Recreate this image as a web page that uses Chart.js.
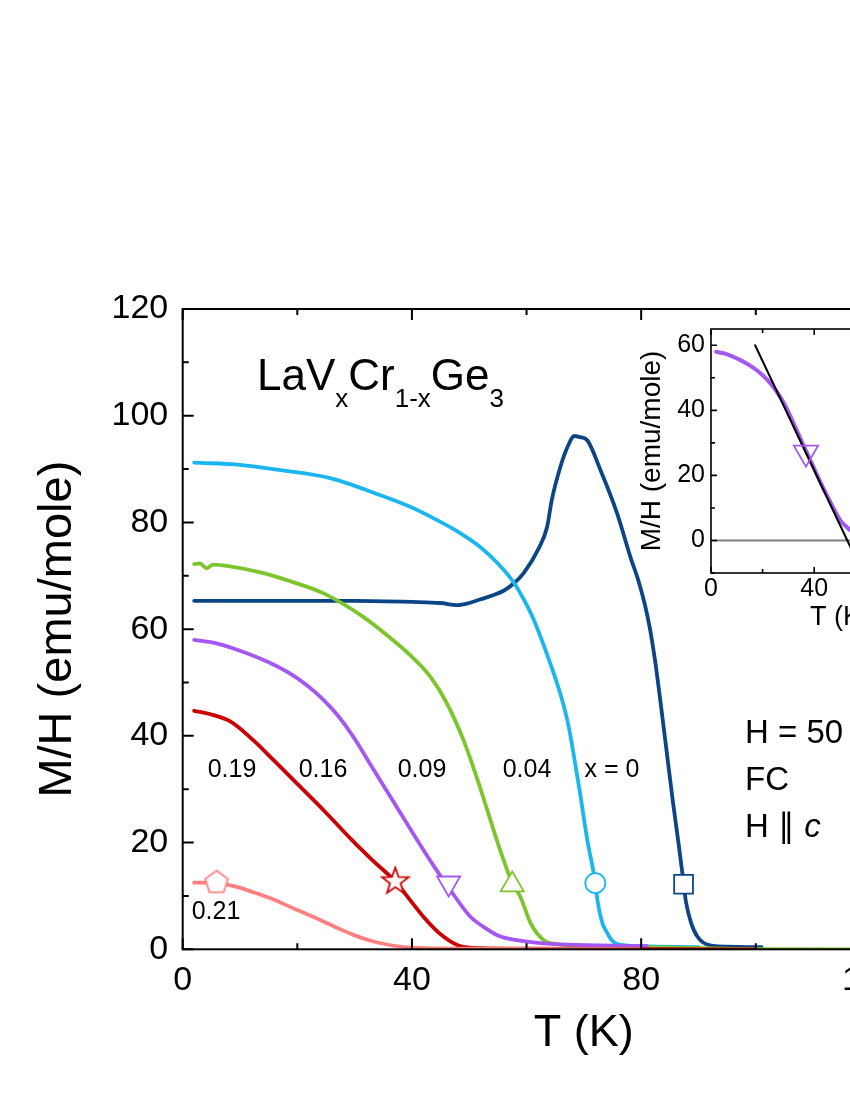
<!DOCTYPE html>
<html><head><meta charset="utf-8">
<script src="https://cdn.jsdelivr.net/npm/chart.js@4.4.1/dist/chart.umd.min.js"></script>
<style>
html,body{margin:0;padding:0;background:#fff;}
#wrap{position:relative;width:850px;height:1100px;overflow:hidden;background:#fff;}
#main{position:absolute;left:0;top:0;}
#inset{position:absolute;left:600px;top:300px;}
</style></head><body>
<div id="wrap"><canvas id="main" width="1100" height="1100"></canvas><canvas id="inset" width="400" height="350"></canvas></div>
<script>
// ---------- data (T in K, M/H in emu/mole) ----------
const seriesNames = ['x = 0', '0.04', '0.09', '0.16', '0.19', '0.21'];

const T_x0   = [2, 10, 20, 30, 40, 45, 48, 50, 52, 54, 56, 57.8, 59.5, 62.1, 63.6, 64.4, 65.9, 67.3, 68.3, 69.3, 70.6, 72.9, 75.8, 78.1, 79.6, 80.6, 81.5, 82.4, 83.3, 84.4, 85.5, 86.5, 87.4, 87.8, 88.7, 89.8, 91.8, 95, 101];
const M_x0   = [65.3, 65.3, 65.3, 65.3, 65.1, 64.9, 64.5, 64.9, 65.6, 66.3, 67.2, 68.6, 70.5, 75.1, 79.2, 84.2, 90.4, 94.5, 96.2, 96.0, 95.4, 89.8, 81.7, 73.6, 68.8, 64.8, 60.3, 54.3, 47.0, 37.5, 28.0, 20.0, 12.5, 9.0, 5.0, 2.4, 0.8, 0.5, 0.4];

const T_x004 = [2, 10, 17, 25.7, 34.5, 40, 43.2, 47.5, 51.9, 55, 57.8, 59.5, 61.2, 64, 66, 67.3, 68.3, 69.3, 70.6, 72, 72.4, 73.2, 73.8, 74.8, 75.8, 80, 90];
const M_x004 = [91.2, 90.8, 89.8, 88.3, 85.1, 82.8, 81.1, 78.6, 75.4, 72.3, 68.7, 65.6, 61.9, 54, 47.5, 42, 36, 29.5, 20.5, 12.5, 9, 5, 3.6, 1.8, 1.0, 0.6, 0.4];

const T_x009 = [2, 3, 4.2, 5.3, 8, 14.1, 19, 24.6, 31.5, 37.4, 40, 43.2, 46, 49, 51, 53, 54.8, 56, 57.5, 58.9, 60.7, 63, 65, 70, 80, 90, 100, 120, 145];
const M_x009 = [72.2, 72.3, 71.4, 72.1, 71.8, 70.5, 68.9, 66.7, 62.3, 57.3, 54.8, 51.1, 46.3, 39.2, 33.2, 26.6, 20.5, 16.7, 12.4, 9.9, 4.9, 1.7, 1.0, 0.7, 0.4, 0.2, 0.05, 0, 0];

const T_x016 = [2, 6, 11.2, 15, 18.7, 22, 24.6, 27, 29.8, 33, 36.7, 40.9, 44, 46.7, 50.2, 52.5, 55, 58.3, 64.2, 70, 81];
const M_x016 = [58.0, 57.3, 55.5, 53.8, 51.7, 49.2, 46.7, 43.9, 39.8, 34.2, 27.8, 20.5, 15.3, 11.1, 6.1, 4.2, 2.6, 1.7, 1.0, 0.8, 0.6];

const T_x019 = [2, 5, 8.3, 12.3, 16, 20, 25, 29.5, 33, 37.1, 40, 42, 44, 45.5, 47, 48.4, 52, 60, 80, 100];
const M_x019 = [44.7, 44.0, 42.7, 39.2, 35.3, 31.0, 25.6, 20.5, 16.8, 12.7, 8.8, 6.1, 3.8, 2.4, 1.3, 0.6, 0.2, 0.1, 0.05, 0];

const T_x021 = [2, 5.9, 9.4, 12, 15.2, 19.9, 24, 27, 29.8, 32.5, 35.6, 40, 50, 60, 80];
const M_x021 = [12.5, 12.4, 11.7, 10.8, 9.6, 7.4, 5.5, 4.0, 2.7, 1.7, 0.9, 0.3, 0.1, 0.05, 0];

// marker positions (order: 0.21, 0.19, 0.16, 0.09, 0.04, 0)
const markerT = [5.9, 37.1, 46.4, 57.5, 72.0, 87.4];
const markerM = [12.5, 12.7, 12.4, 12.1, 12.4, 12.2];

// inset
const fitT = [17.1, 56];
const fitM = [60, -5.3];
const zeroT = [0, 100];
const zeroM = [0, 0];
const insetMarkerT = [36.8];
const insetMarkerM = [27.0];

// tick values
const mainXTicks = [0, 20, 40, 60, 80, 100, 120, 140];
const mainXTickLabels = [0, 40, 80, 120];
const mainYTicks = [0, 20, 40, 60, 80, 100, 120];
const insetXTicks = [0, 40, 80];
const insetYTicks = [0, 20, 40, 60];

// ---------- styles ----------
const FONT = "'Liberation Sans', Arial, Helvetica, sans-serif";
const C = { x0:'#0b4586', x004:'#1bb5ef', x009:'#7cc52c', x016:'#a557f2', x019:'#cc0000', x021:'#ff8080' };

function pts(T, M){ return T.map((t,i)=>({x:t, y:M[i]})); }
function lineDs(T, M, color, order, w){
  return { type:'line', data: pts(T,M), borderColor: color, borderWidth: w || 3.8, pointRadius: 0,
    fill:false, cubicInterpolationMode:'monotone', borderCapStyle:'round', borderJoinStyle:'round', order };
}
function polyCanvas(color, kind, R){
  const s = Math.ceil(R*2+6), c = document.createElement('canvas'); c.width = s; c.height = s;
  const g = c.getContext('2d'); const cx = s/2, cy = s/2;
  g.beginPath();
  if (kind === 'star'){
    const r = R*0.40;
    for (let i=0;i<10;i++){ const a = -Math.PI/2 + i*Math.PI/5; const rr = i%2 ? r : R;
      const X = cx + rr*Math.cos(a), Y = cy + rr*Math.sin(a); i ? g.lineTo(X,Y) : g.moveTo(X,Y); }
  } else {
    for (let i=0;i<5;i++){ const a = -Math.PI/2 + i*2*Math.PI/5;
      const X = cx + R*Math.cos(a), Y = cy + R*Math.sin(a); i ? g.lineTo(X,Y) : g.moveTo(X,Y); }
  }
  g.closePath(); g.fillStyle = '#fff'; g.fill(); g.strokeStyle = color; g.lineWidth = 1.8; g.lineJoin='miter'; g.stroke();
  return c;
}
const pentagon = polyCanvas(C.x021, 'pent', 12);
const star = polyCanvas(C.x019, 'star', 14);

const framePlugin = {
  id: 'frame',
  afterDatasetsDraw(chart, args, o) {
    const {ctx, chartArea: a, scales: {x, y}} = chart;
    ctx.save();
    ctx.strokeStyle = '#000'; ctx.lineWidth = o.lw;
    ctx.strokeRect(a.left, a.top, a.right - a.left, a.bottom - a.top);
    ctx.beginPath();
    const eps = 1e-6;
    for (let k = Math.ceil(x.min / o.xMinor); k * o.xMinor <= x.max + eps; k++) {
      const v = k * o.xMinor, p = x.getPixelForValue(v);
      const len = Math.abs(v / o.xMajor - Math.round(v / o.xMajor)) < eps ? o.major : o.minor;
      ctx.moveTo(p, a.bottom); ctx.lineTo(p, a.bottom - len);
      ctx.moveTo(p, a.top); ctx.lineTo(p, a.top + len);
    }
    for (let k = Math.ceil(y.min / o.yMinor); k * o.yMinor <= y.max + eps; k++) {
      const v = k * o.yMinor, p = y.getPixelForValue(v);
      const len = Math.abs(v / o.yMajor - Math.round(v / o.yMajor)) < eps ? o.major : o.minor;
      ctx.moveTo(a.left, p); ctx.lineTo(a.left + len, p);
      ctx.moveTo(a.right, p); ctx.lineTo(a.right - len, p);
    }
    ctx.stroke(); ctx.restore();
  }
};

const annotPlugin = {
  id: 'annot',
  afterDraw(chart) {
    const {ctx} = chart;
    ctx.save(); ctx.fillStyle = '#000';
    ctx.textBaseline = 'alphabetic'; ctx.textAlign = 'left';
    let px = 257; const base = 390;
    const parts = [['La',0],['V',0],['x',1],['Cr',0],['1-x',1],['Ge',0],['3',1]];
    for (const [t, s] of parts) {
      ctx.font = (s ? '26px ' : '44px ') + FONT;
      ctx.fillText(t, px, base + (s ? 17 : 0));
      px += ctx.measureText(t).width;
    }
    ctx.font = '33px ' + FONT;
    ctx.fillText('H = 50 Oe', 745, 743);
    ctx.fillText('FC', 745, 790);
    const hpar = 'H \u2225 ';
    ctx.fillText(hpar, 745, 837);
    const w = ctx.measureText(hpar).width;
    ctx.font = 'italic 33px ' + FONT;
    ctx.fillText('c', 745 + w, 837);
    ctx.font = '25px ' + FONT; ctx.textAlign = 'center'; ctx.textBaseline = 'middle';
    const lab = [[232,770],[323,770],[422,770],[527,770],[612,770],[216,912]];
    const names = [seriesNames[4], seriesNames[3], seriesNames[2], seriesNames[1], seriesNames[0], seriesNames[5]];
    names.forEach((n,i)=> ctx.fillText(n, lab[i][0], lab[i][1]));
    ctx.restore();
  }
};

Chart.defaults.font.family = FONT;
Chart.defaults.color = '#000';

new Chart(document.getElementById('main'), {
  data: { datasets: [
    { type:'scatter', data: pts(markerT, markerM), showLine:false, order:-1,
      pointStyle: [pentagon, star, 'triangle', 'triangle', 'circle', 'rect'],
      rotation: [0, 0, 180, 0, 0, 0],
      pointRadius: [12, 14, 13.3, 13.3, 10, 13.3],
      pointBorderColor: [C.x021, C.x019, C.x016, C.x009, C.x004, C.x0],
      pointBackgroundColor: '#fff', pointBorderWidth: 1.8, clip: false },
    lineDs(T_x021, M_x021, C.x021, 0),
    lineDs(T_x019, M_x019, C.x019, 1),
    lineDs(T_x016, M_x016, C.x016, 2),
    lineDs(T_x009, M_x009, C.x009, 3),
    lineDs(T_x004, M_x004, C.x004, 4),
    lineDs(T_x0, M_x0, C.x0, 5)
  ]},
  options: {
    responsive: false, animation: false, devicePixelRatio: 1,
    layout: { padding: { left: 0, top: 309, right: 115, bottom: 0 } },
    plugins: { legend: { display: false }, tooltip: { enabled: false },
      frame: { lw: 2, major: 11, minor: 6, xMinor: 20, xMajor: 40, yMinor: 10, yMajor: 20 } },
    scales: {
      x: { type: 'linear', min: 0, max: 140,
        afterBuildTicks: s => { s.ticks = mainXTicks.map(v => ({ value: v })); },
        ticks: { padding: 11, font: { size: 34 }, color: '#000', maxRotation: 0, autoSkip: false,
          callback: v => mainXTickLabels.includes(v) ? String(v) : '' },
        grid: { display: false, drawTicks: false }, border: { display: false },
        title: { display: true, text: 'T (K)', font: { size: 45 }, color: '#000', padding: { top: 0, bottom: 39 } },
        afterFit: s => { s.height = 150.7; } },
      y: { type: 'linear', min: 0, max: 120,
        afterBuildTicks: s => { s.ticks = mainYTicks.map(v => ({ value: v })); },
        ticks: { padding: 14.5, font: { size: 34 }, color: '#000', autoSkip: false },
        grid: { display: false, drawTicks: false }, border: { display: false },
        title: { display: true, text: 'M/H (emu/mole)', font: { size: 47 }, color: '#000', padding: { top: 30, bottom: 0 } },
        afterFit: s => { s.width = 182.7; } }
    }
  },
  plugins: [framePlugin, annotPlugin]
});

new Chart(document.getElementById('inset'), {
  data: { datasets: [
    { type:'scatter', data: pts(insetMarkerT, insetMarkerM), showLine:false, order:-1,
      pointStyle: 'triangle', rotation: 180, pointRadius: 14,
      pointBorderColor: C.x016, pointBackgroundColor: 'rgba(255,255,255,0)', pointBorderWidth: 1.8 },
    lineDs(fitT, fitM, '#000', 0, 2),
    lineDs(T_x016, M_x016, C.x016, 1, 4),
    Object.assign(lineDs(zeroT, zeroM, '#808080', 2, 2), { borderCapStyle: 'butt' })
  ]},
  options: {
    responsive: false, animation: false, devicePixelRatio: 1,
    layout: { padding: { left: 0, top: 29, right: 31, bottom: 0 } },
    plugins: { legend: { display: false }, tooltip: { enabled: false },
      frame: { lw: 1.6, major: 6, minor: 4, xMinor: 20, xMajor: 40, yMinor: 10, yMajor: 20 } },
    scales: {
      x: { type: 'linear', min: 0, max: 100,
        afterBuildTicks: s => { s.ticks = insetXTicks.map(v => ({ value: v })); },
        ticks: { padding: 1, font: { size: 25 }, color: '#000', maxRotation: 0, autoSkip: false },
        grid: { display: false, drawTicks: false }, border: { display: false },
        title: { display: true, text: 'T (K)', font: { size: 27 }, color: '#000', padding: { top: 0, bottom: 16 } },
        afterFit: s => { s.height = 77; } },
      y: { type: 'linear', min: -10, max: 65,
        afterBuildTicks: s => { s.ticks = insetYTicks.map(v => ({ value: v })); },
        ticks: { padding: 6, font: { size: 25 }, color: '#000', autoSkip: false },
        grid: { display: false, drawTicks: false }, border: { display: false },
        title: { display: true, text: 'M/H (emu/mole)', font: { size: 28 }, color: '#000', padding: { top: 35, bottom: 0 } },
        afterFit: s => { s.width = 111; } }
    }
  },
  plugins: [framePlugin]
});
</script></body></html>
